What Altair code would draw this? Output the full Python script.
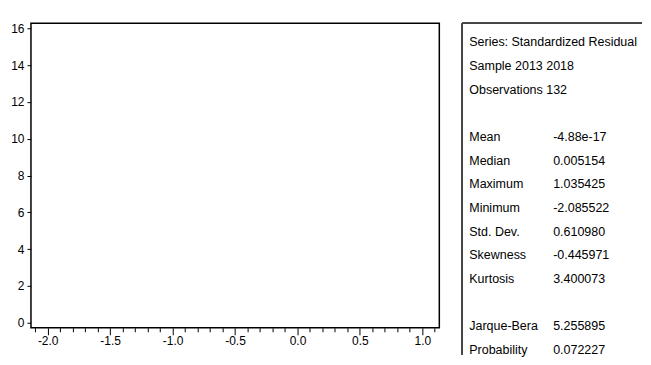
import altair as alt
import pandas as pd

# Histogram bins (none visible in the reference)
bin_start = []
bin_end = []
counts = []

x_ticks = [-2.1, -2.0, -1.9, -1.8, -1.7, -1.6, -1.5, -1.4, -1.3, -1.2, -1.1,
           -1.0, -0.9, -0.8, -0.7, -0.6, -0.5, -0.4, -0.3, -0.2, -0.1,
           0.0, 0.1, 0.2, 0.3, 0.4, 0.5, 0.6, 0.7, 0.8, 0.9, 1.0, 1.1]
y_ticks = [0, 2, 4, 6, 8, 10, 12, 14, 16]

stat_rows = [0, 1, 2, 4, 5, 6, 7, 8, 9, 10, 12, 13]
stat_labels = ["Series: Standardized Residuals", "Sample 2013 2018", "Observations 132",
               "Mean", "Median", "Maximum", "Minimum", "Std. Dev.", "Skewness",
               "Kurtosis", "Jarque-Bera", "Probability"]
stat_values = ["", "", "", "-4.88e-17", "0.005154", "1.035425", "-2.085522",
               "0.610980", "-0.445971", "3.400073", "5.255895", "0.072227"]

FONT = "Liberation Sans"
PANEL_W = 180
PANEL_H = 332

hist_df = pd.DataFrame({"start": pd.Series(bin_start, dtype=float),
                        "end": pd.Series(bin_end, dtype=float),
                        "count": pd.Series(counts, dtype=float)})

major_test = "abs(round(datum.value*10)) % 5 == 0"

hist = alt.Chart(hist_df).mark_bar(color="#4f81bd", stroke="black").encode(
    x=alt.X("start:Q", title=None,
            scale=alt.Scale(domain=[-2.134, 1.136], nice=False, zero=False),
            axis=alt.Axis(values=x_ticks, domain=False, grid=False,
                          labelExpr=major_test + " ? ((datum.value < 0 ? '-' : '') + format(abs(datum.value), '.1f')) : ''",
                          tickSize={"condition": {"test": major_test, "value": 7}, "value": 4},
                          labelPadding=1, labelFlush=False, labelOverlap=False)),
    x2="end:Q",
    y=alt.Y("count:Q", title=None,
            scale=alt.Scale(domain=[0, 16], nice=False),
            axis=alt.Axis(values=y_ticks, domain=False, grid=False, format="d",
                          tickSize=4, labelPadding=3, labelFlush=False)),
).properties(width=409, height=305,
             view=alt.ViewBackground(stroke="black", strokeWidth=1.5))

lab_df = pd.DataFrame({"row": stat_rows, "col": ["label"] * len(stat_rows), "text": stat_labels})
val_rows, val_texts = [], []
for r, val in zip(stat_rows, stat_values):
    if val:
        val_rows.append(r)
        val_texts.append(val if val.startswith("-") else "\u00a0" + val)
val_df = pd.DataFrame({"row": val_rows, "col": ["value"] * len(val_rows), "text": val_texts})

xs = alt.X("col:N", scale=alt.Scale(domain=["label", "value"], range=[7, 91], padding=0), axis=None)
ys = alt.Y("row:Q", scale=alt.Scale(domain=[-0.8, 13.2], reverse=True, nice=False, zero=False), axis=None)

labels = alt.Chart(lab_df).mark_text(align="left", baseline="middle", font=FONT,
                                     fontSize=12.5, color="black",
                                     limit=PANEL_W - 6, ellipsis="\u200b").encode(x=xs, y=ys, text="text:N")
values = alt.Chart(val_df).mark_text(align="left", baseline="middle", font=FONT,
                                     fontSize=12.5, color="black").encode(x=xs, y=ys, text="text:N")
top_rule = alt.Chart(lab_df).mark_rule(color="#444444", strokeWidth=1).encode(
    x=alt.value(0), x2=alt.value(PANEL_W), y=alt.value(0))
left_rule = alt.Chart(lab_df).mark_rule(color="#444444", strokeWidth=1).encode(
    x=alt.value(0), y=alt.value(0), y2=alt.value(PANEL_H))

stats = alt.layer(top_rule, left_rule, labels, values).properties(
    width=PANEL_W, height=PANEL_H,
    view=alt.ViewBackground(stroke=None))

chart = alt.hconcat(hist, stats, spacing=21).properties(
    padding={"left": 1, "top": 13, "right": 0, "bottom": 0},
    background="white",
).configure_axis(
    labelFont=FONT, labelFontSize=12, labelColor="black",
    tickColor="black", tickWidth=1,
)

chart.save("out.html", embed_options={"renderer": "svg", "actions": False})
